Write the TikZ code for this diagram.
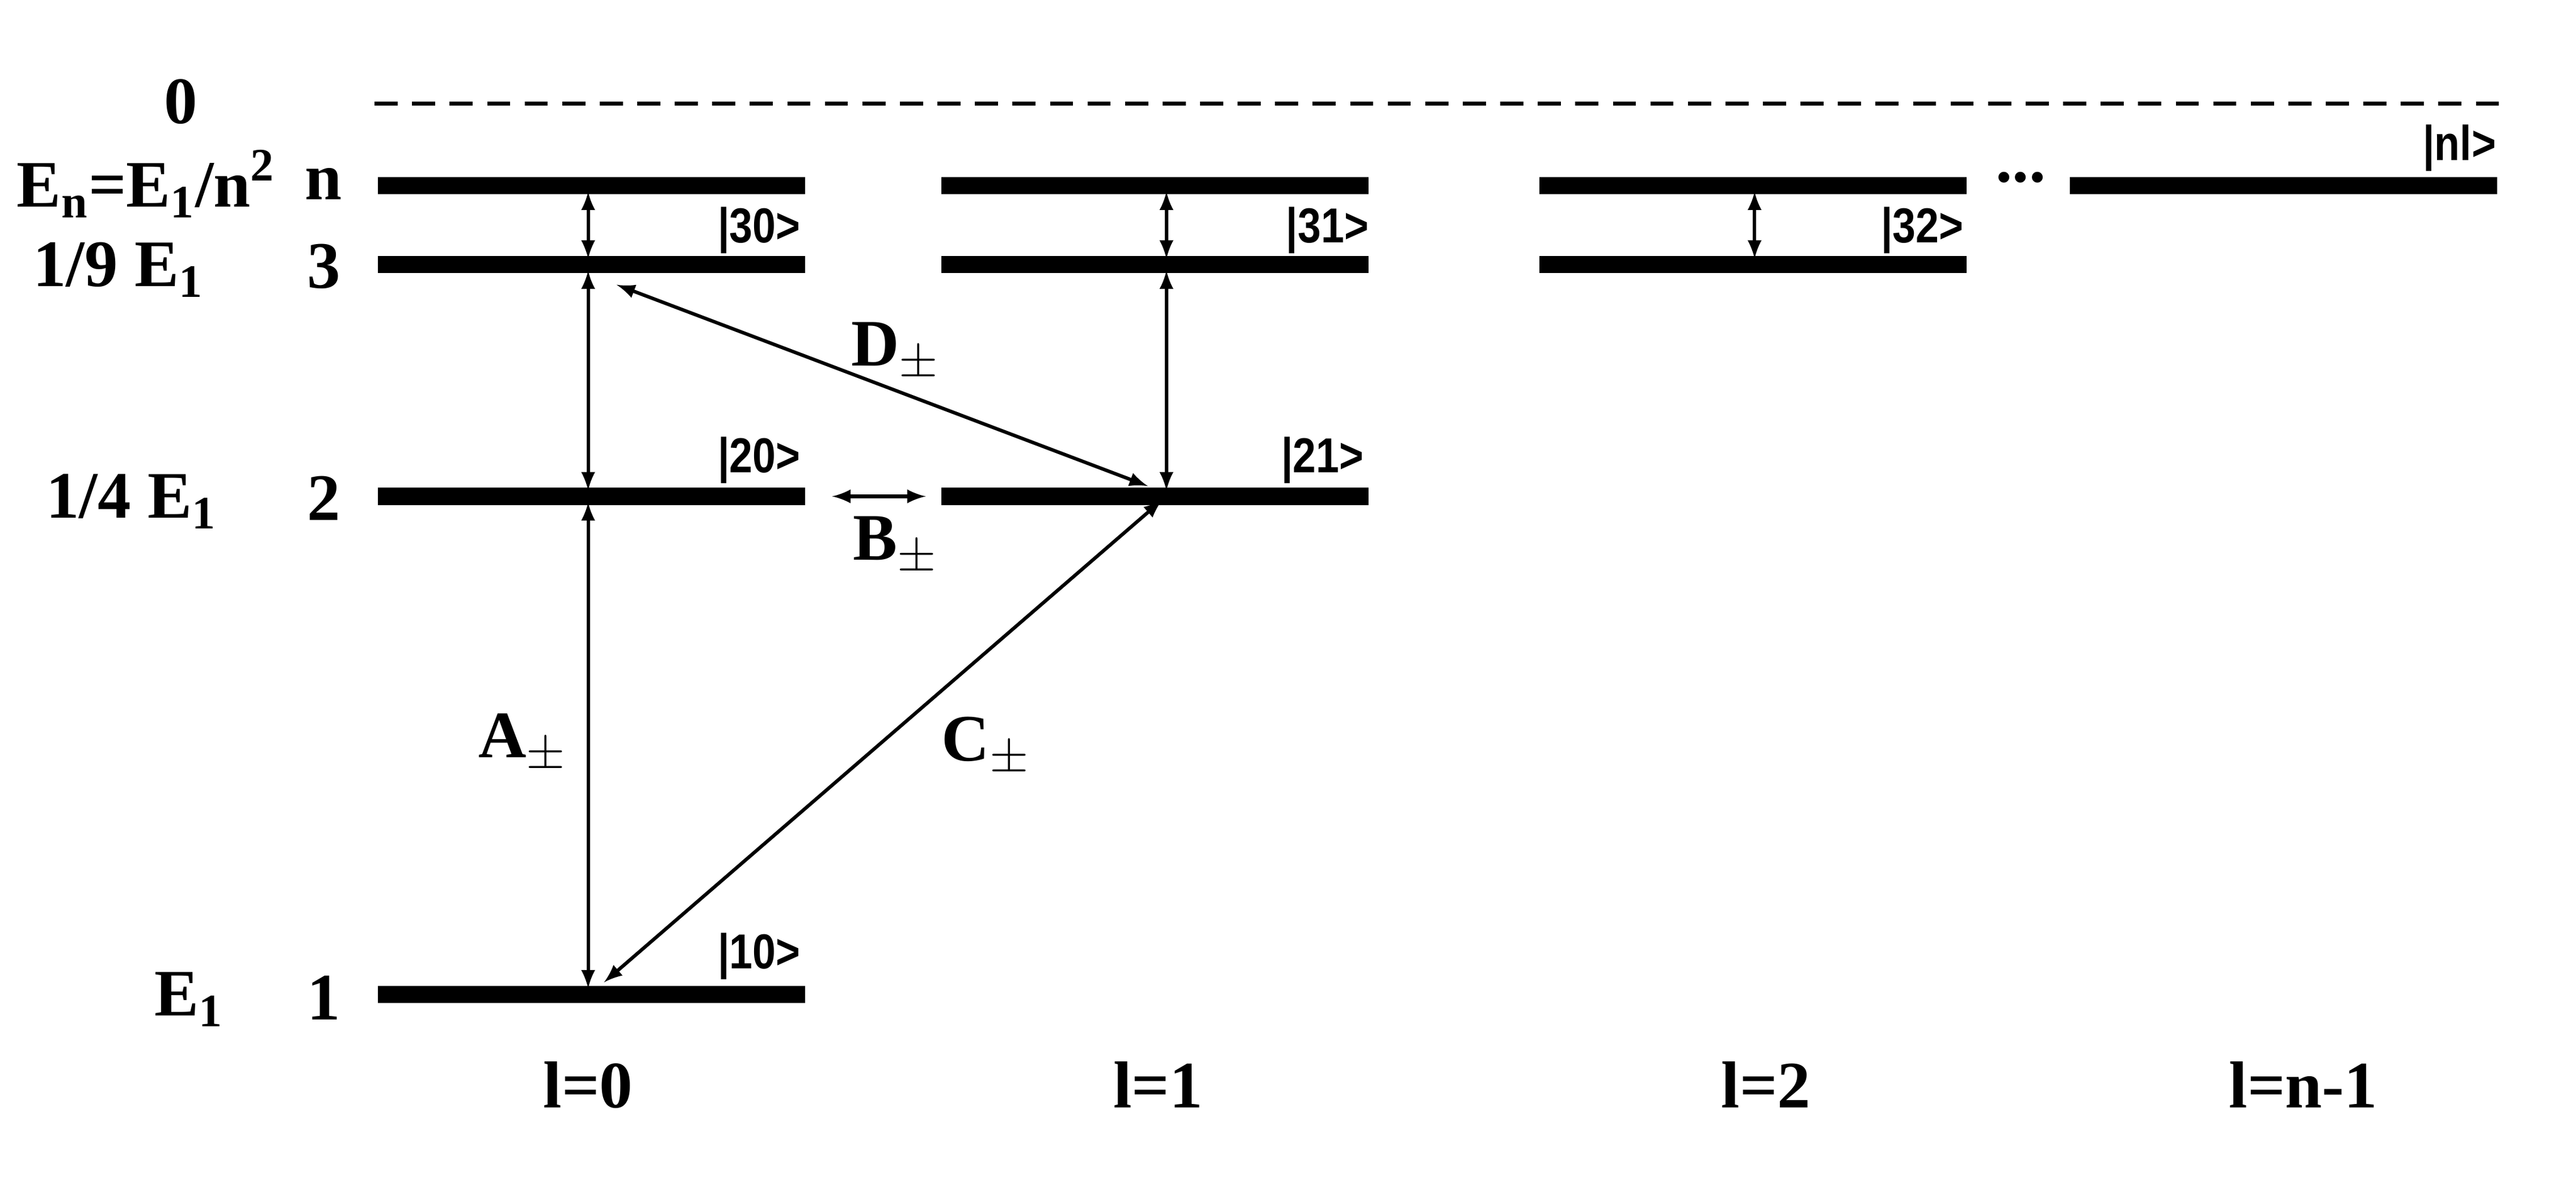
\documentclass[tikz,border=0pt]{standalone}
\usepackage{fontspec}
\setmainfont{Liberation Serif}
\newfontfamily\ketfont{Liberation Sans}[FakeStretch=0.85]
\begin{document}
\begin{tikzpicture}[x=0.02cm,y=-0.02cm,
    level/.style={line width=6pt},
    trans/.style={<->,>=latex,line width=1.2pt,shorten <=2pt,shorten >=2pt},
    lab/.style={font=\fontsize{23}{26}\selectfont\bfseries},
    ket/.style={font=\ketfont\fontsize{17}{20}\selectfont\bfseries}]
    \useasboundingbox (0,0) rectangle (1568,725);
    % zero line
    \draw[dashed,line width=1.3pt,dash pattern=on 8pt off 5pt] (228,63) -- (1528,63);
    % levels
    \foreach \y/\name in {113/n,161/3,302/2,605/1}
    \draw[level] (230,\y) -- (490,\y);
    \foreach \y in {113,161,302}
    \draw[level] (573,\y) -- (833,\y);
    \foreach \y in {113,161}
    \draw[level] (937,\y) -- (1197,\y);
    \draw[level] (1260,113) -- (1520,113);
    % transition end points
    \coordinate (a1) at (358,605); \coordinate (a2) at (358,302);
    \coordinate (a3) at (358,161); \coordinate (an) at (358,113);
    \coordinate (b1) at (710,302); \coordinate (b3) at (710,161);
    \coordinate (bn) at (710,113);
    \coordinate (c3) at (1068,161); \coordinate (cn) at (1068,113);
    \coordinate (bl) at (503,302); \coordinate (br) at (567,302);
    \draw[trans] (an) -- (a3);
    \draw[trans] (a3) -- (a2);
    \draw[trans] (a2) -- (a1);
    \draw[trans] (bn) -- (b3);
    \draw[trans] (b3) -- (b1);
    \draw[trans] (cn) -- (c3);
    \draw[trans] (bl) -- (br);
    \draw[trans] (b1) -- (365,600);
    \draw[trans] (372,172) -- (702,297);
    % labels
    \node[lab] (A) at (318,452) {A$_{\pm}$};
    \node[lab] (B) at (545,332) {B$_{\pm}$};
    \node[lab] (C) at (600,454) {C$_{\pm}$};
    \node[lab] (D) at (545,214) {D$_{\pm}$};
    \node[ket] (k30) at (462,140) {|30>};
    \node[ket] (k31) at (808,140) {|31>};
    \node[ket] (k32) at (1170,140) {|32>};
    \node[ket] (knl) at (1497,90) {|nl>};
    \node[ket] (k20) at (462,280) {|20>};
    \node[ket] (k21) at (805,280) {|21>};
    \node[ket] (k10) at (462,582) {|10>};
    \node[lab] (dots) at (1230,108) {...};
    % energies
    \node[lab] (e0) at (110,62) {0};
    \node[lab,anchor=west,inner sep=0pt] (en) at (10,112) {E$_{\mathbf n}$=E$_{\mathbf 1}$/n$^{\mathbf 2}$};
    \node[lab] (e3) at (72,164) {1/9 E$_{\mathbf 1}$};
    \node[lab] (e2) at (80,305) {1/4 E$_{\mathbf 1}$};
    \node[lab] (e1) at (115,608) {E$_{\mathbf 1}$};
    \foreach \y/\t in {112/n,162/3,303/2,607/1}
    \node[lab] (q\t) at (197,\y) {\t};
    \node[lab] (l0) at (358,660) {l=0};
    \node[lab] (l1) at (705,660) {l=1};
    \node[lab] (l2) at (1075,660) {l=2};
    \node[lab] (ln) at (1402,660) {l=n-1};
\end{tikzpicture}
\end{document}
